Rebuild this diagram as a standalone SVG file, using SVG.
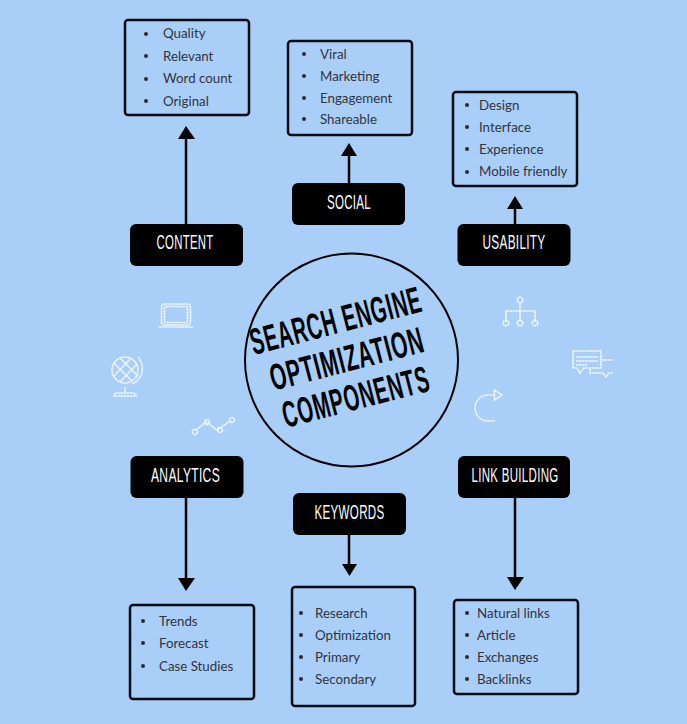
<svg xmlns="http://www.w3.org/2000/svg" width="687" height="724" viewBox="0 0 687 724">
<style>
.box{fill:none;stroke:#0b0b12;stroke-width:2.5}
.tag{fill:#000}
.tl{font-family:"Liberation Sans Narrow","Liberation Sans",Arial,sans-serif;font-size:20px;letter-spacing:.5px;fill:#fff;text-anchor:middle}
.li{font-family:Lato,"Open Sans",sans-serif;font-size:13.3px;fill:#33333c}
.dot{fill:#2b2b33}
.con{stroke:#000;stroke-width:2.5;fill:none}
.title{font-family:"Liberation Sans Narrow","Liberation Sans",Arial,sans-serif;font-weight:bold;font-size:37px;letter-spacing:1.5px;fill:#000;text-anchor:middle}
.ic{fill:none;stroke:#eef6ff;stroke-width:1.6;stroke-dasharray:2.5 .4}
</style>
<rect width="687" height="724" fill="#a9cff8"/>
<g id="connectors">
<path class="con" d="M186 224V138"/><path d="M178 139L186 126L195 139Z"/>
<path class="con" d="M349 183V155"/><path d="M341 156L349 143L357 156Z"/>
<path class="con" d="M515 224V208"/><path d="M507 209L515 196L523 209Z"/>
<path class="con" d="M186 498V579"/><path d="M178 578L186 591L195 578Z"/>
<path class="con" d="M349 535V565"/><path d="M342 564L349.500 576L357 564Z"/>
<path class="con" d="M515 498V578"/><path d="M507 577L515 590L524 577Z"/>
</g>
<g id="center">
<circle cx="351.500" cy="360" r="106.500" fill="none" stroke="#000" stroke-width="2"/>
<text class="title" transform="translate(339 333) rotate(-14.5)" textLength="176" lengthAdjust="spacingAndGlyphs">SEARCH ENGINE</text>
<text class="title" transform="translate(350 371) rotate(-14.5)" textLength="158" lengthAdjust="spacingAndGlyphs">OPTIMIZATION</text>
<text class="title" transform="translate(359 409) rotate(-14.5)" textLength="151" lengthAdjust="spacingAndGlyphs">COMPONENTS</text>
</g>
<g id="content-tag"><rect class="tag" x="130" y="224" width="113" height="42" rx="6"/><text class="tl" x="185" y="249" textLength="57" lengthAdjust="spacingAndGlyphs">CONTENT</text></g>
<g id="social-tag"><rect class="tag" x="292" y="183" width="113" height="42" rx="6"/><text class="tl" x="349" y="209" textLength="44" lengthAdjust="spacingAndGlyphs">SOCIAL</text></g>
<g id="usability-tag"><rect class="tag" x="457.500" y="224" width="113" height="42" rx="6"/><text class="tl" x="514" y="249" textLength="63" lengthAdjust="spacingAndGlyphs">USABILITY</text></g>
<g id="analytics-tag"><rect class="tag" x="130.500" y="456" width="113" height="42" rx="6"/><text class="tl" x="185.500" y="482" textLength="69" lengthAdjust="spacingAndGlyphs">ANALYTICS</text></g>
<g id="keywords-tag"><rect class="tag" x="293" y="493" width="113" height="42" rx="6"/><text class="tl" x="349.500" y="519" textLength="70" lengthAdjust="spacingAndGlyphs">KEYWORDS</text></g>
<g id="linkbuilding-tag"><rect class="tag" x="458" y="456" width="112" height="42" rx="6"/><text class="tl" x="515" y="482" textLength="87" lengthAdjust="spacingAndGlyphs">LINK BUILDING</text></g>
<g id="content-list"><rect class="box" x="125" y="20" width="124" height="95" rx="3"/>
<circle class="dot" cx="146" cy="34" r="2"/><text class="li" x="163" y="38">Quality</text>
<circle class="dot" cx="146" cy="56" r="2"/><text class="li" x="163" y="61">Relevant</text>
<circle class="dot" cx="146" cy="79" r="2"/><text class="li" x="163" y="83">Word count</text>
<circle class="dot" cx="146" cy="101" r="2"/><text class="li" x="163" y="106">Original</text></g>
<g id="social-list"><rect class="box" x="288" y="41" width="124" height="94" rx="3"/>
<circle class="dot" cx="304" cy="54" r="2"/><text class="li" x="320" y="59">Viral</text>
<circle class="dot" cx="304" cy="76" r="2"/><text class="li" x="320" y="81">Marketing</text>
<circle class="dot" cx="304" cy="98" r="2"/><text class="li" x="320" y="103">Engagement</text>
<circle class="dot" cx="304" cy="119" r="2"/><text class="li" x="320" y="124">Shareable</text></g>
<g id="usability-list"><rect class="box" x="453" y="92" width="124" height="94" rx="3"/>
<circle class="dot" cx="467" cy="105" r="2"/><text class="li" x="479" y="110">Design</text>
<circle class="dot" cx="467" cy="127" r="2"/><text class="li" x="479" y="132">Interface</text>
<circle class="dot" cx="467" cy="149" r="2"/><text class="li" x="479" y="154">Experience</text>
<circle class="dot" cx="467" cy="172" r="2"/><text class="li" x="479" y="176">Mobile friendly</text></g>
<g id="analytics-list"><rect class="box" x="130" y="605" width="124" height="94" rx="3"/>
<circle class="dot" cx="143" cy="621" r="2"/><text class="li" x="159" y="626">Trends</text>
<circle class="dot" cx="143" cy="643" r="2"/><text class="li" x="159" y="648">Forecast</text>
<circle class="dot" cx="143" cy="666" r="2"/><text class="li" x="159" y="671">Case Studies</text></g>
<g id="keywords-list"><rect class="box" x="292" y="587" width="123" height="119" rx="3"/>
<circle class="dot" cx="301" cy="613" r="2"/><text class="li" x="315" y="618">Research</text>
<circle class="dot" cx="301" cy="635" r="2"/><text class="li" x="315" y="640">Optimization</text>
<circle class="dot" cx="301" cy="657" r="2"/><text class="li" x="315" y="662">Primary</text>
<circle class="dot" cx="301" cy="679" r="2"/><text class="li" x="315" y="684">Secondary</text></g>
<g id="linkbuilding-list"><rect class="box" x="454" y="600" width="124" height="94" rx="3"/>
<circle class="dot" cx="467" cy="613" r="2"/><text class="li" x="477" y="618">Natural links</text>
<circle class="dot" cx="467" cy="635" r="2"/><text class="li" x="477" y="640">Article</text>
<circle class="dot" cx="467" cy="657" r="2"/><text class="li" x="477" y="662">Exchanges</text>
<circle class="dot" cx="467" cy="679" r="2"/><text class="li" x="477" y="684">Backlinks</text></g>
<g id="icon-laptop" class="ic"><rect x="161.500" y="304" width="29" height="21" rx="3"/><rect x="164.500" y="306.500" width="23" height="16" rx="1"/><path d="M158.500 327h35"/></g>
<g id="icon-globe" class="ic"><circle cx="125" cy="370" r="13"/><path d="M114 363L132 381M120 358L138 376M114 376L131 358M120 382L137 364"/><path d="M138 357A17 17 0 0 1 132 384M125 387V393M114 396Q114 393 118 393H132Q136 393 136 396Z"/></g>
<g id="icon-trend" class="ic"><path d="M196 430L206 422L217 430L230 421"/><circle cx="195" cy="432" r="2.500"/><circle cx="207" cy="422" r="2.500"/><circle cx="220" cy="430" r="2.500"/><circle cx="232" cy="420" r="2.500"/></g>
<g id="icon-network" class="ic"><circle cx="520" cy="300" r="2.800"/><path d="M520 303V322M506 322V311H535V322"/><circle cx="506" cy="323" r="2.800"/><circle cx="520" cy="323" r="2.800"/><circle cx="535" cy="323" r="2.800"/></g>
<g id="icon-chat" class="ic"><path d="M573 351H601V368H584L580 373L577 368H573Z"/><path d="M576 357H598M576 361H598M576 365H587M602 360H613M590 369V373H603L606 377L609 373H613"/></g>
<g id="icon-refresh" class="ic"><path d="M494 395H488A13 13 0 0 0 488 421H495"/><path d="M494.500 390L502 395L494.500 400Z"/></g>
</svg>
